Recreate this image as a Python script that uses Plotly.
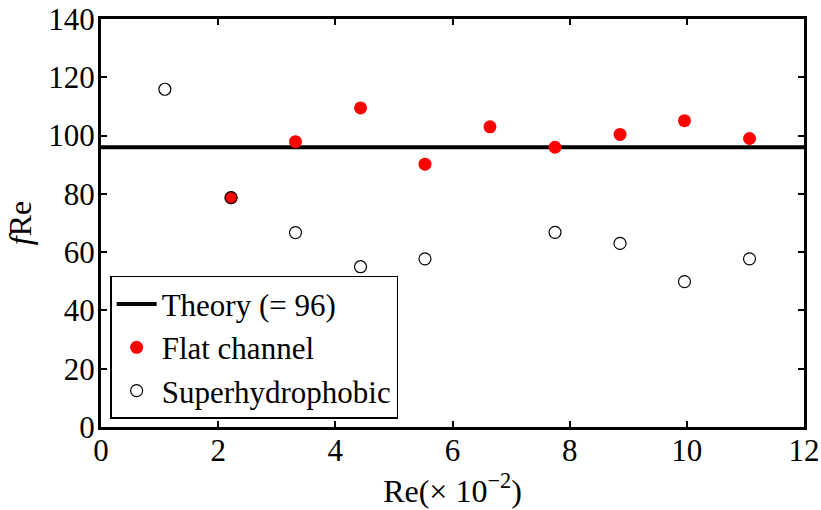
import plotly.graph_objects as go

theory_value = 96
x_range = [0, 12]
flat_x = [2.22, 3.32, 4.43, 5.53, 6.64, 7.75, 8.86, 9.96, 11.07]
flat_y = [78.7, 97.9, 109.5, 90.2, 103.0, 96.0, 100.4, 105.1, 99.0]
sh_x = [1.09, 2.22, 3.32, 4.43, 5.53, 7.75, 8.86, 9.96, 11.07]
sh_y = [115.9, 78.7, 66.7, 55.0, 57.7, 66.8, 63.0, 49.9, 57.7]
x_ticks = [0, 2, 4, 6, 8, 10, 12]
y_ticks = [0, 20, 40, 60, 80, 100, 120, 140]

FONT = "Liberation Serif"

fig = go.Figure()
fig.add_trace(go.Scatter(x=x_range, y=[theory_value, theory_value], mode="lines",
                         line=dict(color="black", width=4), name="Theory (= 96)"))
fig.add_trace(go.Scatter(x=flat_x, y=flat_y, mode="markers",
                         marker=dict(color="red", size=13, line=dict(width=0)),
                         name="Flat channel"))
fig.add_trace(go.Scatter(x=sh_x, y=sh_y, mode="markers",
                         marker=dict(color="rgba(0,0,0,0)", size=12,
                                     line=dict(color="black", width=1.2)),
                         name="Superhydrophobic"))

axis_common = dict(showline=True, linecolor="black", linewidth=3, mirror="allticks",
                   ticks="inside", ticklen=6, tickwidth=2, tickcolor="black",
                   showgrid=False, zeroline=False, automargin=False,
                   tickfont=dict(family=FONT, size=31, color="black"))

fig.update_xaxes(range=x_range, tickvals=x_ticks, **axis_common, ticklabelstandoff=-6,
                 title=dict(text="Re(× 10<sup>−2</sup>)", font=dict(family=FONT, size=32, color="black"),
                            standoff=4))
fig.update_yaxes(range=[0, 140], tickvals=y_ticks, **axis_common, ticklabelstandoff=-3,
                 title=dict(text="<i>f</i>Re", font=dict(family=FONT, size=32, color="black"),
                            standoff=8))

fig.update_layout(
    width=821, height=510,
    margin=dict(l=101, r=17, t=19, b=83, autoexpand=False),
    plot_bgcolor="white", paper_bgcolor="white",
    font=dict(family=FONT, color="black"),
    legend=dict(x=0.013, y=0.02, xanchor="left", yanchor="bottom",
                bgcolor="white", bordercolor="black", borderwidth=1.5,
                font=dict(family=FONT, size=31, color="black"),
                tracegroupgap=0, itemwidth=40),
    showlegend=True,
)

fig.write_html("out.html")
